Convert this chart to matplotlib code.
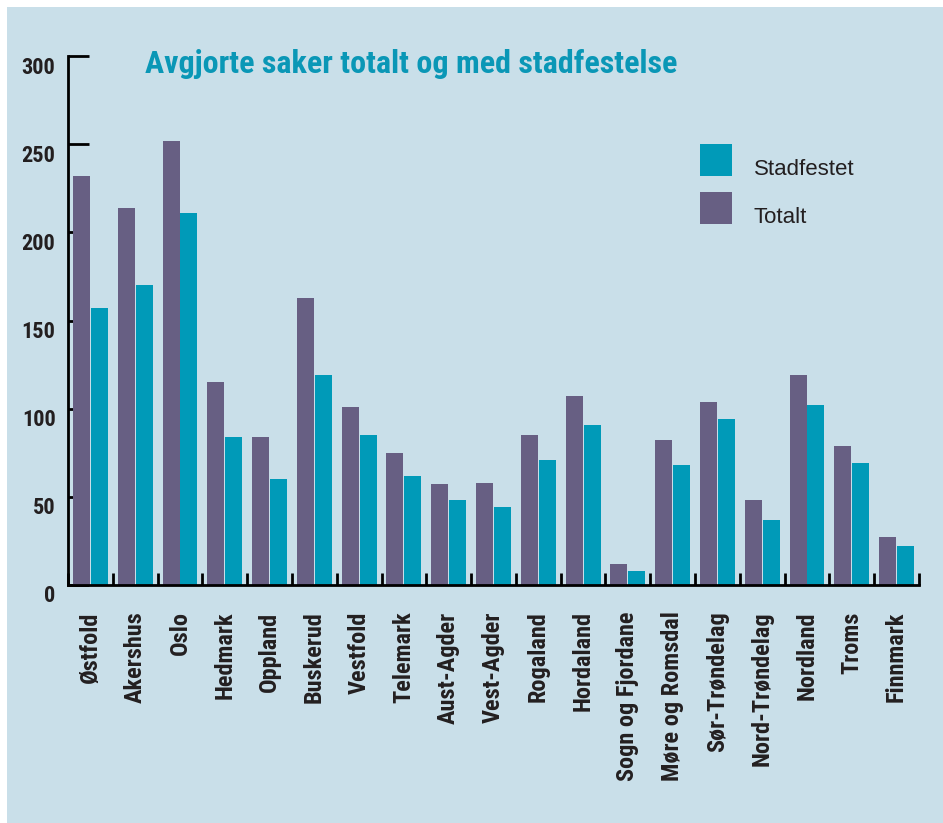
import matplotlib
matplotlib.use('Agg')
import matplotlib.pyplot as plt
from matplotlib import font_manager
from matplotlib.patches import Rectangle
from matplotlib.transforms import ScaledTranslation
import numpy as np

fylker = ['Østfold', 'Akershus', 'Oslo', 'Hedmark', 'Oppland', 'Buskerud',
          'Vestfold', 'Telemark', 'Aust-Agder', 'Vest-Agder', 'Rogaland',
          'Hordaland', 'Sogn og Fjordane', 'Møre og Romsdal', 'Sør-Trøndelag',
          'Nord-Trøndelag', 'Nordland', 'Troms', 'Finnmark']
totalt = [232, 214, 252, 115, 84, 163, 101, 75, 57, 58, 85, 107, 12, 82, 104,
          48, 119, 79, 27]
stadfestet = [157, 170, 211, 84, 60, 119, 85, 62, 48, 44, 71, 91, 8, 68, 94,
              37, 102, 69, 22]
yticks = [0, 50, 100, 150, 200, 250, 300]
serier = ['Stadfestet', 'Totalt']

c_tot = '#675f83'
c_stad = '#009ab8'
c_bg = '#c9dfe9'
c_title = '#0a97b6'
c_txt = '#231f20'

names = {f.name for f in font_manager.fontManager.ttflist}
narrow = 'DejaVu Sans'
for cand in ['Liberation Sans Narrow', 'Roboto Condensed', 'Open Sans Condensed']:
    if cand in names:
        narrow = cand
        break
plain = 'Liberation Sans' if 'Liberation Sans' in names else 'DejaVu Sans'

W, H = 943, 823
fig = plt.figure(figsize=(W / 100, H / 100), dpi=100, facecolor='white')
fig.patches.append(Rectangle((7 / W, 0), 1, (H - 7) / H, transform=fig.transFigure,
                             facecolor=c_bg, edgecolor='none', zorder=-10))

ax = fig.add_axes([68 / W, (H - 585) / H, (919 - 68) / W, (585 - 56) / H])
ax.set_facecolor('none')

x = np.arange(len(fylker))
w = 0.38
ax.bar(x + 0.5 - 0.2, totalt, w, color=c_tot, zorder=2)
ax.bar(x + 0.5 + 0.2, stadfestet, w, color=c_stad, zorder=2)

ax.set_xlim(0, len(fylker))
ax.set_ylim(0, 300)
for s in ['top', 'right']:
    ax.spines[s].set_visible(False)
for s in ['left', 'bottom']:
    ax.spines[s].set_linewidth(2)
    ax.spines[s].set_color('black')

ax.set_yticks(yticks)
ax.set_yticklabels([str(v) for v in yticks], fontfamily=narrow, fontweight='bold',
                   fontsize=16, color=c_txt)
ax.tick_params(axis='y', direction='in', length=15, width=2, pad=9)
off = ScaledTranslation(0, -9 / 100, fig.dpi_scale_trans)
for lab in ax.get_yticklabels():
    lab.set_transform(lab.get_transform() + off)

ax.set_xticks(np.arange(len(fylker) + 1))
ax.set_xticklabels([''] * (len(fylker) + 1))
ax.tick_params(axis='x', direction='in', length=9, width=2)
ax.set_xticks(x + 0.5, minor=True)
ax.set_xticklabels(fylker, minor=True, rotation=90, va='top', ha='center',
                   fontfamily=narrow, fontweight='bold', fontsize=17.5, color=c_txt)
ax.tick_params(axis='x', which='minor', length=0, pad=19)

fig.text(145 / W, 1 - 64 / H, 'Avgjorte saker totalt og med stadfestelse',
         fontfamily=narrow, fontweight='bold', fontsize=23, color=c_title,
         va='center', ha='left')

# legend drawn by hand (square swatches, text sitting a little low)
for i, (navn, col) in enumerate(zip(serier, [c_stad, c_tot])):
    top = 144 + 48 * i
    fig.patches.append(Rectangle((700 / W, 1 - (top + 32) / H), 32 / W, 32 / H,
                                 transform=fig.transFigure, facecolor=col,
                                 edgecolor='none'))
    fig.text(754 / W, 1 - (top + 31) / H, navn, fontfamily=plain, fontsize=16,
             color=c_txt, va='baseline', ha='left')

fig.savefig('out.png', dpi=100, facecolor='white')
